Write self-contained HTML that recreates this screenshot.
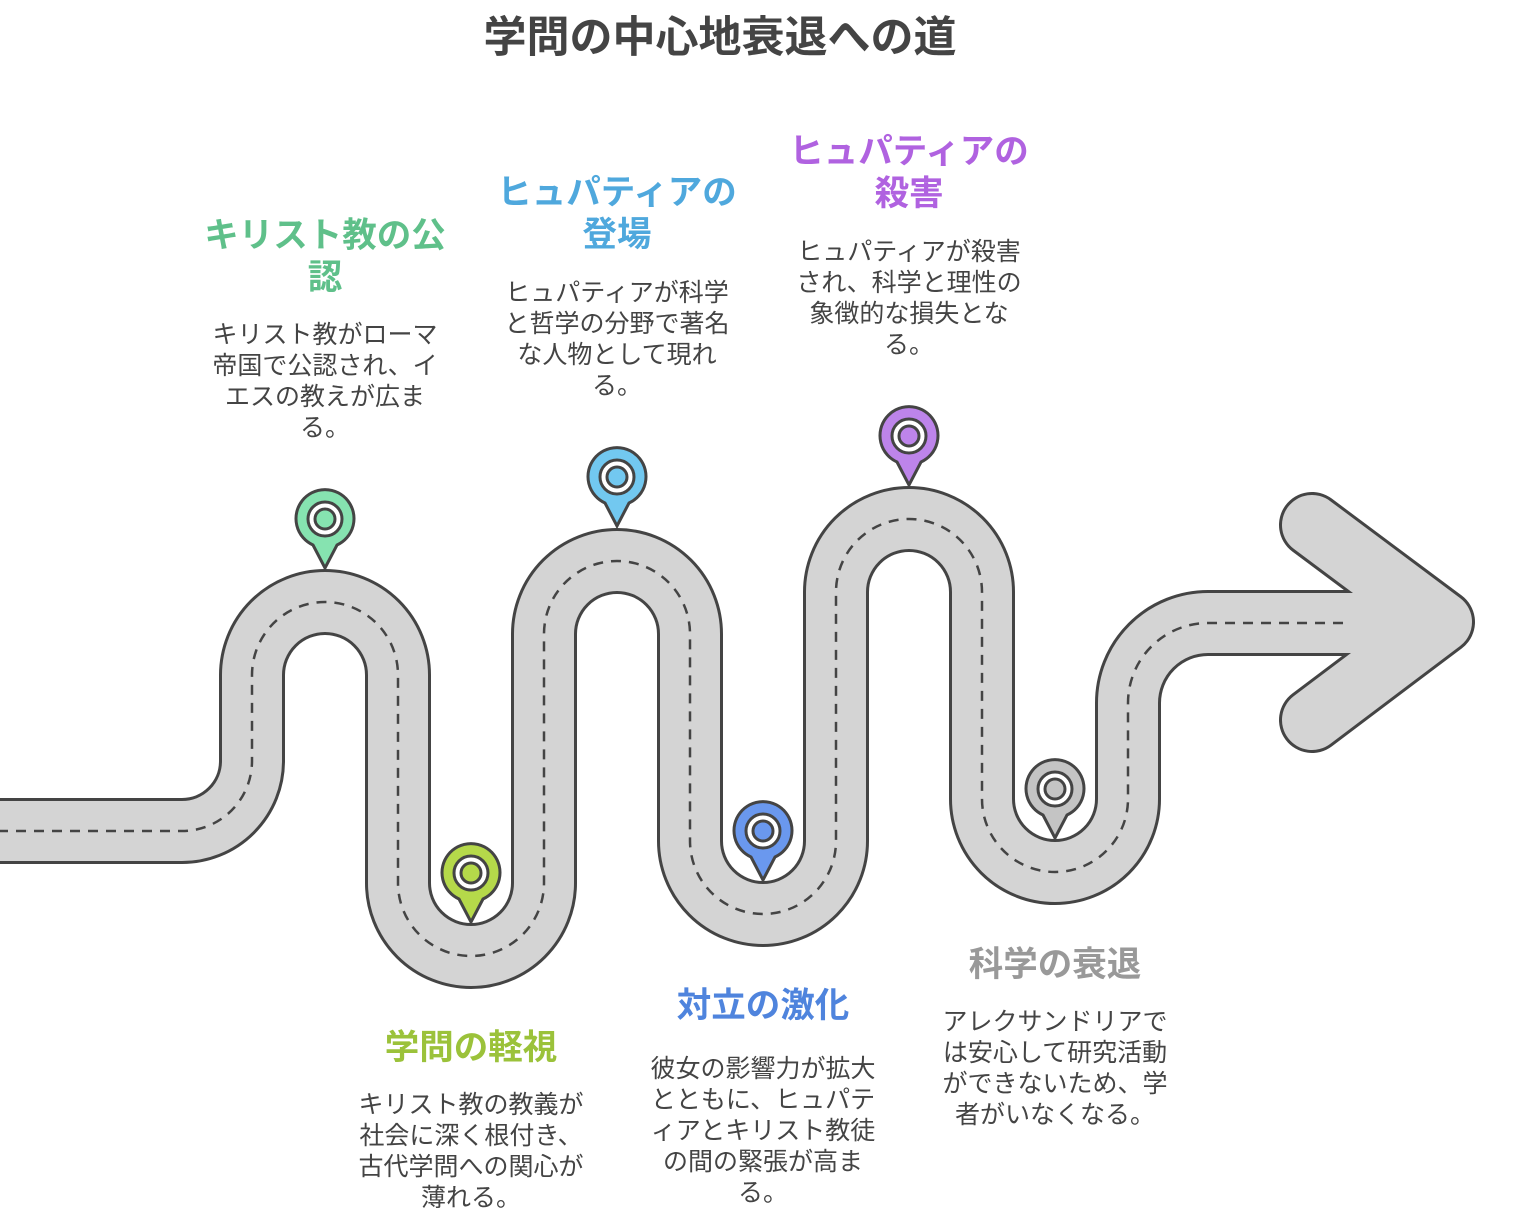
<!DOCTYPE html>
<html><head><meta charset="utf-8"><style>
body{margin:0;width:1536px;height:1227px;background:#fff;position:relative;overflow:hidden;font-family:"Liberation Sans","Noto Sans CJK JP",sans-serif;color:#444}
.t{position:absolute;width:300px;text-align:center;white-space:nowrap}
.h{font-weight:bold;font-size:34.5px;line-height:42px}
.b{font-size:25px;line-height:31px}
</style></head><body>
<svg width="1536" height="1227" style="position:absolute;left:0;top:0">
<g fill="none" stroke-linecap="round" stroke-linejoin="round">
<path d="M-20,831 H182 A70,70 0 0 0 252,761 V675 A73,73 0 0 1 398,675 V883 A73,73 0 0 0 544,883 V634 A73,73 0 0 1 690,634 V841 A73,73 0 0 0 836,841 V592 A73,73 0 0 1 982,592 V799 A73,73 0 0 0 1128,799 V703 A80,80 0 0 1 1208,623 H1420" stroke="#444" stroke-width="66" stroke-linecap="butt"/>
<polyline points="1312,525 1442,622 1312,720" stroke="#444" stroke-width="66"/>
<path d="M-20,831 H182 A70,70 0 0 0 252,761 V675 A73,73 0 0 1 398,675 V883 A73,73 0 0 0 544,883 V634 A73,73 0 0 1 690,634 V841 A73,73 0 0 0 836,841 V592 A73,73 0 0 1 982,592 V799 A73,73 0 0 0 1128,799 V703 A80,80 0 0 1 1208,623 H1420" stroke="#d4d4d4" stroke-width="60" stroke-linecap="butt"/>
<polyline points="1312,525 1442,622 1312,720" stroke="#d4d4d4" stroke-width="60"/>
<path d="M-20,831 H182 A70,70 0 0 0 252,761 V675 A73,73 0 0 1 398,675 V883 A73,73 0 0 0 544,883 V634 A73,73 0 0 1 690,634 V841 A73,73 0 0 0 836,841 V592 A73,73 0 0 1 982,592 V799 A73,73 0 0 0 1128,799 V703 A80,80 0 0 1 1208,623 H1345" stroke="#444" stroke-width="2.5" stroke-dasharray="10 8" stroke-linecap="butt"/>
</g>
<g stroke="#444" stroke-width="3">
<g transform="translate(325,519)"><path d="M-12,26 L0,49 L12,26 A29,29 0 1 0 -12,26Z" fill="#86e3b0"/><circle r="17" fill="#fff"/><circle r="10" fill="#86e3b0"/></g>
<g transform="translate(471,873)"><path d="M-12,26 L0,49 L12,26 A29,29 0 1 0 -12,26Z" fill="#b5d94a"/><circle r="17" fill="#fff"/><circle r="10" fill="#b5d94a"/></g>
<g transform="translate(617,477)"><path d="M-12,26 L0,49 L12,26 A29,29 0 1 0 -12,26Z" fill="#72c8f0"/><circle r="17" fill="#fff"/><circle r="10" fill="#72c8f0"/></g>
<g transform="translate(763,831)"><path d="M-12,26 L0,49 L12,26 A29,29 0 1 0 -12,26Z" fill="#6a98ee"/><circle r="17" fill="#fff"/><circle r="10" fill="#6a98ee"/></g>
<g transform="translate(909,436)"><path d="M-12,26 L0,49 L12,26 A29,29 0 1 0 -12,26Z" fill="#bd84ea"/><circle r="17" fill="#fff"/><circle r="10" fill="#bd84ea"/></g>
<g transform="translate(1055,789)"><path d="M-12,26 L0,49 L12,26 A29,29 0 1 0 -12,26Z" fill="#c4c4c4"/><circle r="17" fill="#fff"/><circle r="10" fill="#c4c4c4"/></g>
</g>
</svg>
<div class="t" style="left:420px;width:600px;top:12px;font-size:43px;font-weight:bold;line-height:52px">学問の中心地衰退への道</div>

<div class="t h" style="left:175px;top:215px;color:#5fc08a">キリスト教の公<br>認</div>
<div class="t b" style="left:175px;top:320px">キリスト教がローマ<br>帝国で公認され、イ<br>エスの教えが広ま<br>る。</div>

<div class="t h" style="left:467px;top:172px;color:#4fa8dd">ヒュパティアの<br>登場</div>
<div class="t b" style="left:467px;top:278px">ヒュパティアが科学<br>と哲学の分野で著名<br>な人物として現れ<br>る。</div>

<div class="t h" style="left:759px;top:131px;color:#b062e0">ヒュパティアの<br>殺害</div>
<div class="t b" style="left:759px;top:237px">ヒュパティアが殺害<br>され、科学と理性の<br>象徴的な損失とな<br>る。</div>

<div class="t h" style="left:321px;top:1027px;color:#9bc23a">学問の軽視</div>
<div class="t b" style="left:321px;top:1090px">キリスト教の教義が<br>社会に深く根付き、<br>古代学問への関心が<br>薄れる。</div>

<div class="t h" style="left:613px;top:985px;color:#4f84dd">対立の激化</div>
<div class="t b" style="left:613px;top:1054px">彼女の影響力が拡大<br>とともに、ヒュパテ<br>ィアとキリスト教徒<br>の間の緊張が高ま<br>る。</div>

<div class="t h" style="left:905px;top:944px;color:#999">科学の衰退</div>
<div class="t b" style="left:905px;top:1007px">アレクサンドリアで<br>は安心して研究活動<br>ができないため、学<br>者がいなくなる。</div>
</body></html>
